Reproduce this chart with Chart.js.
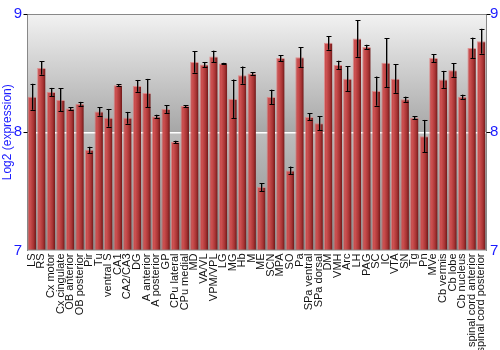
<!DOCTYPE html>
<html>
<head>
<meta charset="utf-8">
<script src="https://cdn.jsdelivr.net/npm/chart.js@4"></script>
<style>
html,body{margin:0;padding:0;background:#fff;}
#wrap{width:500px;height:350px;}
</style>
</head>
<body>
<div id="wrap"><canvas id="c" width="500" height="350"></canvas></div>
<script>
const categories = ["LS","RS","Cx motor","Cx cingulate","OB anterior","OB posterior","Pir","Tu","ventral S","CA1","CA2/CA3","DG","A anterior","A posterior","GP","CPu lateral","CPu medial","MD","VA/VL","VPM/VPL","LG","MG","Hb","M","ME","SCN","MPA","SO","Pa","SPa ventral","SPa dorsal","DM","VMH","Arc","LH","PAG","SC","IC","VTA","SN","Tg","Pn","MVe","Cb vermis","Cb lobe","Cb nucleus","spinal cord anterior","spinal cord posterior"];
const values = [8.30,8.544,8.34,8.273,8.201,8.24,7.851,8.176,8.122,8.398,8.122,8.392,8.331,8.133,8.196,7.917,8.221,8.594,8.572,8.64,8.582,8.282,8.483,8.497,7.536,8.298,8.627,7.677,8.635,8.13,8.077,8.756,8.569,8.453,8.793,8.721,8.348,8.588,8.453,8.279,8.122,7.967,8.627,8.447,8.525,8.30,8.713,8.77];
const errors = [0.11,0.057,0.035,0.097,0.012,0.017,0.026,0.036,0.075,0.01,0.05,0.05,0.12,0.015,0.033,0.011,0.008,0.09,0.02,0.05,0.005,0.164,0.073,0.012,0.033,0.062,0.026,0.033,0.083,0.03,0.058,0.058,0.036,0.104,0.155,0.019,0.123,0.206,0.12,0.022,0.014,0.137,0.033,0.072,0.057,0.018,0.087,0.105];
const yTicks = [7,8,9];

const BAR_FRAC = 0.88;

function barGradient(ctx){
  const chart = ctx.chart;
  const xs = chart.scales && chart.scales.x;
  if(!xs || !chart.chartArea) return '#b03030';
  const cx = xs.getPixelForValue(ctx.dataIndex);
  const w = (xs.width / categories.length) * BAR_FRAC;
  const g = chart.ctx.createLinearGradient(cx - w/2, 0, cx + w/2, 0);
  g.addColorStop(0, '#c24848');
  g.addColorStop(0.3, '#cc5050');
  g.addColorStop(0.7, '#a83434');
  g.addColorStop(1, '#6e1818');
  return g;
}

const bgPlugin = {
  id:'bg',
  beforeDraw(chart){
    const {ctx, chartArea:a, scales:{y}} = chart;
    const y9 = y.getPixelForValue(9), y8 = y.getPixelForValue(8), y7 = y.getPixelForValue(7);
    ctx.save();
    let g = ctx.createLinearGradient(0,y9,0,y8);
    g.addColorStop(0,'#f2f2f2'); g.addColorStop(1,'#a6a6a6');
    ctx.fillStyle = g; ctx.fillRect(a.left,y9,a.right-a.left,y8-y9);
    g = ctx.createLinearGradient(0,y8,0,y7);
    g.addColorStop(0,'#bdbdbd'); g.addColorStop(1,'#8a8a8a');
    ctx.fillStyle = g; ctx.fillRect(a.left,y8,a.right-a.left,y7-y8);
    ctx.restore();
  },
  afterDatasetsDraw(chart){
    const {ctx, chartArea:a, scales:{x,y}} = chart;
    ctx.save();
    // error bars
    values.forEach((v,i)=>{
      const cx = Math.round(x.getPixelForValue(i)) + 0.5;
      const top = y.getPixelForValue(v + errors[i]);
      const bot = y.getPixelForValue(v - errors[i]);
      ctx.strokeStyle = 'rgba(90,90,90,0.6)';
      ctx.lineWidth = 1;
      ctx.beginPath(); ctx.moveTo(cx+1,top); ctx.lineTo(cx+1,bot); ctx.stroke();
      ctx.strokeStyle = '#000';
      ctx.beginPath();
      ctx.moveTo(cx,top); ctx.lineTo(cx,bot);
      ctx.moveTo(cx-2,Math.round(top)+0.5); ctx.lineTo(cx+3,Math.round(top)+0.5);
      ctx.moveTo(cx-2,Math.round(bot)+0.5); ctx.lineTo(cx+3,Math.round(bot)+0.5);
      ctx.stroke();
    });
    // frame
    ctx.strokeStyle = '#888';
    ctx.lineWidth = 1;
    const L = Math.round(a.left)+0.5, R = Math.round(a.right)+0.5, T = Math.round(a.top)+0.5, B = Math.round(a.bottom);
    ctx.beginPath();
    ctx.moveTo(L,B); ctx.lineTo(L,T); ctx.lineTo(R,T); ctx.lineTo(R,B);
    ctx.stroke();
    // tick marks
    ctx.strokeStyle = '#000';
    ctx.beginPath();
    [8,9].forEach(t=>{
      const yy = Math.round(y.getPixelForValue(t))+0.5;
      ctx.moveTo(L-4,yy); ctx.lineTo(L,yy);
      ctx.moveTo(R,yy); ctx.lineTo(R+4,yy);
    });
    ctx.stroke();
    ctx.restore();
  }
};

new Chart(document.getElementById('c'), {
  type:'bar',
  data:{
    labels: categories,
    datasets:[{
      data: values,
      backgroundColor: barGradient,
      borderColor: 'rgba(225,120,120,0.75)',
      borderWidth: {top:1,left:1,right:0,bottom:0},
      borderSkipped: false,
      categoryPercentage: 1.0,
      barPercentage: BAR_FRAC,
      base: 7
    }]
  },
  options:{
    responsive:false,
    animation:false,
    devicePixelRatio:1,
    layout:{padding:{top:9,right:0,left:0,bottom:0}},
    plugins:{legend:{display:false},tooltip:{enabled:false}},
    scales:{
      x:{
        grid:{display:false,drawTicks:false},
        border:{display:false},
        ticks:{
          autoSkip:false,minRotation:90,maxRotation:90,padding:3,
          color:'#111',
          font:{family:'Liberation Sans, Arial, sans-serif',size:11}
        },
        afterFit(s){ s.height = 99.5; }
      },
      y:{
        position:'left',
        min:7,max:9,
        afterBuildTicks(s){ s.ticks = yTicks.map(v=>({value:v})); },
        grid:{
          drawTicks:false,
          color:(c)=> (c.tick && c.tick.value===8) ? '#ffffff' : 'rgba(0,0,0,0)',
          lineWidth:1.5
        },
        border:{display:false},
        ticks:{
          color:'#1a1aff',padding:5,
          font:{family:'Liberation Sans, Arial, sans-serif',size:15}
        },
        title:{
          display:true,text:'Log2 (expression)',color:'#1a1aff',
          padding:{top:0,bottom:0},
          font:{family:'Liberation Sans, Arial, sans-serif',size:12}
        },
        afterFit(s){ s.width = 27; }
      },
      y2:{
        position:'right',
        min:7,max:9,
        afterBuildTicks(s){ s.ticks = yTicks.map(v=>({value:v})); },
        grid:{display:false,drawTicks:false},
        border:{display:false},
        ticks:{
          color:'#1a1aff',padding:4,
          font:{family:'Liberation Sans, Arial, sans-serif',size:15}
        },
        afterFit(s){ s.width = 14; }
      }
    }
  },
  plugins:[bgPlugin]
});
</script>
</body>
</html>
